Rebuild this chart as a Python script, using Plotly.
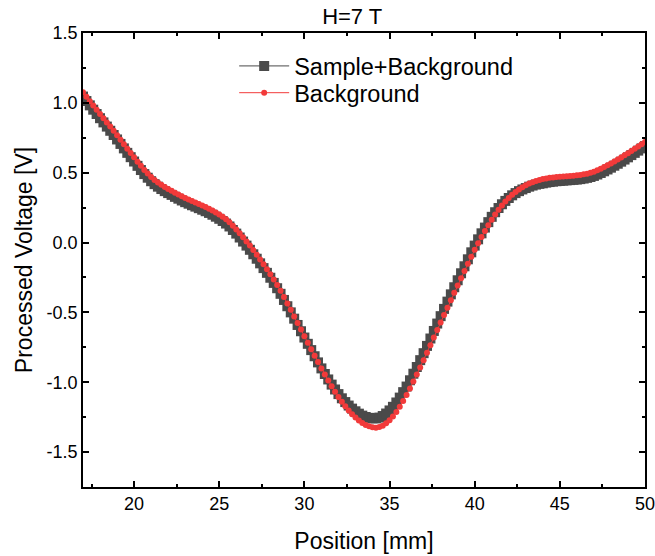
import numpy as np
import plotly.graph_objects as go

# Position grid (mm), 0.2 mm sampling
position = np.round(np.arange(17.0, 50.0001, 0.2), 1)

sample_bg = [
    1.045, 1.013, 0.982, 0.951, 0.920, 0.890, 0.860, 0.830, 0.800, 0.770,
    0.738, 0.706, 0.674, 0.642, 0.611, 0.580, 0.549, 0.519, 0.490, 0.464,
    0.439, 0.418, 0.400, 0.383, 0.368, 0.354, 0.341, 0.327, 0.314, 0.301,
    0.289, 0.278, 0.267, 0.257, 0.246, 0.235, 0.224, 0.212, 0.199, 0.185,
    0.170, 0.154, 0.136, 0.115, 0.090, 0.064, 0.036, 0.007, -0.022, -0.052,
    -0.084, -0.116, -0.149, -0.183, -0.217, -0.252, -0.289, -0.327, -0.367, -0.411,
    -0.456, -0.500, -0.545, -0.590, -0.635, -0.680, -0.725, -0.770, -0.814, -0.858,
    -0.901, -0.941, -0.980, -1.017, -1.052, -1.085, -1.115, -1.142, -1.167, -1.189,
    -1.208, -1.225, -1.239, -1.249, -1.255, -1.258, -1.259, -1.253, -1.242, -1.224,
    -1.202, -1.176, -1.145, -1.110, -1.071, -1.031, -0.986, -0.939, -0.891, -0.842,
    -0.792, -0.740, -0.687, -0.633, -0.580, -0.527, -0.475, -0.423, -0.371, -0.320,
    -0.270, -0.220, -0.170, -0.120, -0.070, -0.022, 0.023, 0.066, 0.107, 0.146,
    0.184, 0.217, 0.247, 0.274, 0.298, 0.319, 0.338, 0.354, 0.368, 0.380,
    0.390, 0.400, 0.408, 0.415, 0.420, 0.424, 0.429, 0.433, 0.436, 0.439,
    0.441, 0.443, 0.445, 0.447, 0.449, 0.451, 0.454, 0.458, 0.463, 0.469,
    0.477, 0.487, 0.498, 0.510, 0.523, 0.536, 0.550, 0.564, 0.579, 0.594,
    0.610, 0.626, 0.642, 0.658, 0.674, 0.690,
]

background = [
    1.075, 1.043, 1.012, 0.981, 0.950, 0.920, 0.890, 0.860, 0.830, 0.800,
    0.768, 0.736, 0.704, 0.672, 0.641, 0.610, 0.579, 0.549, 0.520, 0.494,
    0.469, 0.448, 0.430, 0.413, 0.398, 0.384, 0.371, 0.357, 0.344, 0.331,
    0.319, 0.308, 0.297, 0.287, 0.276, 0.265, 0.254, 0.242, 0.229, 0.215,
    0.200, 0.184, 0.166, 0.145, 0.120, 0.094, 0.066, 0.037, 0.008, -0.022,
    -0.054, -0.087, -0.121, -0.156, -0.191, -0.227, -0.265, -0.304, -0.345, -0.390,
    -0.436, -0.482, -0.529, -0.576, -0.623, -0.670, -0.717, -0.764, -0.810, -0.856,
    -0.901, -0.945, -0.988, -1.029, -1.068, -1.105, -1.140, -1.172, -1.202, -1.229,
    -1.253, -1.274, -1.292, -1.306, -1.316, -1.322, -1.325, -1.321, -1.311, -1.294,
    -1.272, -1.245, -1.213, -1.176, -1.135, -1.091, -1.044, -0.995, -0.945, -0.894,
    -0.842, -0.789, -0.735, -0.680, -0.626, -0.572, -0.519, -0.466, -0.413, -0.360,
    -0.308, -0.256, -0.204, -0.152, -0.101, -0.052, -0.005, 0.040, 0.083, 0.124,
    0.164, 0.201, 0.235, 0.266, 0.294, 0.319, 0.342, 0.362, 0.380, 0.396,
    0.410, 0.422, 0.432, 0.441, 0.448, 0.454, 0.459, 0.463, 0.466, 0.469,
    0.471, 0.473, 0.475, 0.477, 0.479, 0.481, 0.484, 0.488, 0.493, 0.499,
    0.507, 0.517, 0.528, 0.540, 0.553, 0.566, 0.580, 0.594, 0.609, 0.624,
    0.640, 0.656, 0.672, 0.688, 0.704, 0.720,
]

x_tick_vals = [20, 25, 30, 35, 40, 45, 50]
x_tick_text = ["20", "25", "30", "35", "40", "45", "50"]
y_tick_vals = [-1.5, -1.0, -0.5, 0.0, 0.5, 1.0, 1.5]
y_tick_text = ["-1.5", "-1.0", "-0.5", "0.0", "0.5", "1.0", "1.5"]

series_names = ["Sample+Background", "Background"]
title_text = "H=7 T"
x_label = "Position [mm]"
y_label = "Processed Voltage [V]"

FONT = "Liberation Sans, Arial, sans-serif"
DARK = "#4a4a4a"
RED = "#f23a3a"

W, H = 655, 556

fig = go.Figure()
fig.add_trace(go.Scatter(
    x=position, y=sample_bg, name=series_names[0], mode="lines+markers",
    line=dict(color=DARK, width=1),
    marker=dict(symbol="square", size=10, color=DARK, line=dict(width=0)),
    legend="legend",
))
fig.add_trace(go.Scatter(
    x=position, y=background, name=series_names[1], mode="lines+markers",
    line=dict(color=RED, width=1),
    marker=dict(symbol="circle", size=6, color=RED, line=dict(width=0)),
    legend="legend2",
))

axis_common = dict(
    showline=True, linecolor="black", linewidth=1.5, mirror="allticks",
    ticks="inside", ticklen=6, tickwidth=1.5, tickcolor="black",
    showgrid=False, zeroline=False, automargin=False,
    ticklabeloverflow="allow",
    tickfont=dict(family=FONT, size=18, color="black"),
)

fig.update_xaxes(
    range=[17, 50], tickmode="array", tickvals=x_tick_vals, ticktext=x_tick_text,
    minor=dict(dtick=2.5, tick0=0, ticks="inside", ticklen=3, tickwidth=1.5, tickcolor="black"),
    title=dict(text=x_label, font=dict(family=FONT, size=23, color="black"), standoff=20),
    **axis_common,
)
fig.update_yaxes(
    range=[-1.75, 1.5], tickmode="array", tickvals=y_tick_vals, ticktext=y_tick_text,
    minor=dict(dtick=0.25, tick0=0, ticks="inside", ticklen=3, tickwidth=1.5, tickcolor="black"),
    title=dict(text=y_label, font=dict(family=FONT, size=23, color="black"), standoff=8),
    **axis_common,
)

legend_common = dict(
    xanchor="left", yanchor="middle", bgcolor="rgba(0,0,0,0)", borderwidth=0,
    font=dict(family=FONT, size=23.5, color="black"), itemwidth=50,
)

fig.update_layout(
    width=W, height=H,
    margin=dict(l=83, r=10, t=33, b=69, autoexpand=False),
    paper_bgcolor="white", plot_bgcolor="white",
    title=dict(text=title_text, x=0.479, xref="paper", xanchor="center",
               y=1 - 16 / H, yref="container", yanchor="middle",
               font=dict(family=FONT, size=22, color="black")),
    showlegend=True,
    legend=dict(x=0.269, y=0.927, **legend_common),
    legend2=dict(x=0.269, y=0.868, **legend_common),
)

# remove the default page margin so the figure sits at the window's corner
fig.write_html("out.html", config={"displayModeBar": False},
               post_script="document.body.style.margin='0';")
